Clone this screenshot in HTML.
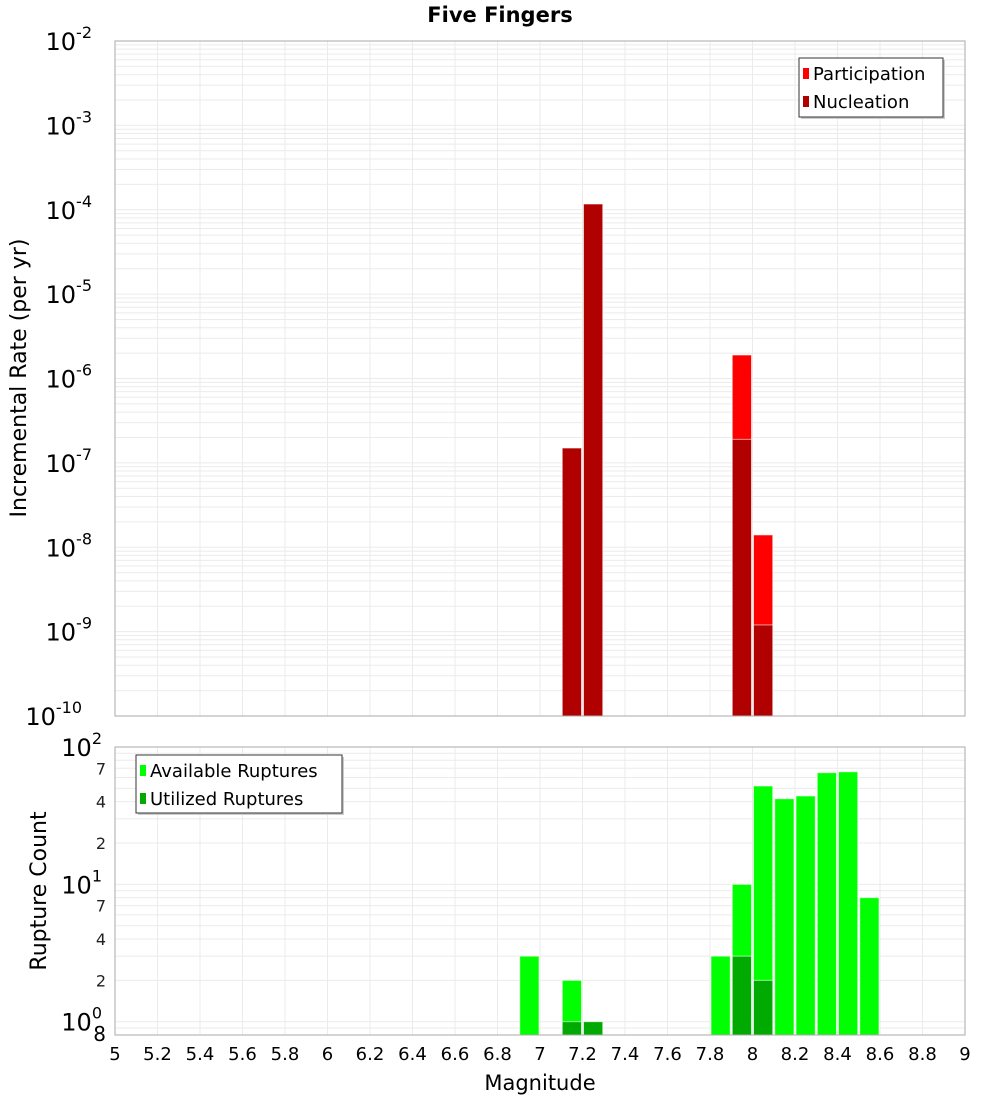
<!DOCTYPE html>
<html><head><meta charset="utf-8"><style>
body{margin:0;background:#fff;}
svg{display:block;font-family:"DejaVu Sans","Liberation Sans",sans-serif;}
</style></head><body>
<svg id="c" width="1000" height="1100"></svg>
<script>
const binCenters=[6.95,7.15,7.25,7.85,7.95,8.05,8.15,8.25,8.35,8.45,8.55];
const participation=[0,1.5e-7,1.17e-4,0,1.9e-6,1.4e-8,0,0,0,0,0];
const nucleation=[0,1.5e-7,1.17e-4,0,1.9e-7,1.2e-9,0,0,0,0,0];
const available=[3,2,1,3,10,52,42,44,65,66,8];
const utilized=[0,1,1,0,3,2,0,0,0,0,0];
const xTicks=[5,5.2,5.4,5.6,5.8,6,6.2,6.4,6.6,6.8,7,7.2,7.4,7.6,7.8,8,8.2,8.4,8.6,8.8,9];
const topExps=[-2,-3,-4,-5,-6,-7,-8,-9,-10];
const botExps=[2,1,0];
const botMinor=[2,4,7];

const NS="http://www.w3.org/2000/svg";
const svg=document.getElementById('c');
function el(t,a,p){const e=document.createElementNS(NS,t);for(const k in a)e.setAttribute(k,a[k]);(p||svg).appendChild(e);return e;}
const X0=115,X1=965;
const xs=v=>X0+(v-5)/(9-5)*(X1-X0);
const T0=41,T1=716;
const ty=v=>T0+(-2-Math.log10(v))/8*(T1-T0);
const B0=747,B1=1035,bMin=0.8,bMax=100;
const by=v=>B0+(Math.log10(bMax)-Math.log10(v))/(Math.log10(bMax)-Math.log10(bMin))*(B1-B0);

// grids
function grid(yf,ymin,ymax,y0,y1,name){
  const g=el('g',{});
  
  
  xTicks.forEach(t=>el('line',{x1:xs(t),x2:xs(t),y1:y0,y2:y1,stroke:'#ebebeb','stroke-width':1},g));
  for(let e=Math.floor(Math.log10(ymin));e<=Math.log10(ymax);e++){
    for(let m=1;m<10;m++){const v=m*Math.pow(10,e);if(v<ymin||v>ymax)continue;
      el('line',{x1:X0,x2:X1,y1:yf(v),y2:yf(v),stroke:'#ebebeb','stroke-width':1},g);}
  }
}
grid(ty,1e-10,1e-2,T0,T1,'top-grid');
grid(by,bMin,bMax,B0,B1,'bottom-grid');

const bw=xs(0.1)-xs(0);
function bar(c,v,yf,base,fill,name){
  if(!v)return;
  const y=yf(v);
  const r=el('rect',{x:xs(c-0.05)+1,y:y,width:bw-2,height:base-y,fill:fill,stroke:'rgba(255,255,255,0.6)','stroke-width':1});
  
  
}
binCenters.forEach((c,i)=>{bar(c,participation[i],ty,T1,'#ff0000','participation-bar');});
binCenters.forEach((c,i)=>{bar(c,nucleation[i],ty,T1,'#b00000','nucleation-bar');});
binCenters.forEach((c,i)=>{bar(c,available[i],by,B1,'#00ff00','available-bar');});
binCenters.forEach((c,i)=>{bar(c,utilized[i],by,B1,'#00aa00','utilized-bar');});

// frames
el('rect',{x:X0,y:T0,width:X1-X0,height:T1-T0,fill:'none',stroke:'#aaa'});
el('rect',{x:X0,y:B0,width:X1-X0,height:B1-B0,fill:'none',stroke:'#aaa'});

function pow10(x,y,e,name){
  const t=el('text',{x:x,y:y,'text-anchor':'end','font-size':24,fill:'#000'});
  
  
  t.textContent='10';
  const s=el('tspan',{dy:-12,'font-size':16},t);s.textContent=String(e);
  t.setAttribute('x',x-(String(e).length*10));
}
topExps.forEach(e=>pow10(112,ty(Math.pow(10,e))+9,e,'y-tick-label'));
botExps.forEach(e=>pow10(112,by(Math.pow(10,e))+9,e,'y-tick-label'));
botMinor.forEach(m=>[0,1].forEach(e=>{
  const t=el('text',{x:106,y:by(m*Math.pow(10,e))+6,'text-anchor':'end','font-size':16,fill:'#222'});
  
  
  t.textContent=m;
}));
{const t=el('text',{x:106,y:B1+6,'text-anchor':'end','font-size':20,fill:'#000'});
 t.textContent='8';}

xTicks.forEach(v=>{
  const t=el('text',{x:xs(v),y:1060,'text-anchor':'middle','font-size':18,fill:'#000'});
  
  
  t.textContent=v;
});

function txt(x,y,s,attrs,name){const t=el('text',Object.assign({x:x,y:y},attrs));t.textContent=s;return t;}
txt(500,22,'Five Fingers',{'text-anchor':'middle','font-size':21,'font-weight':'bold'},'chart-title');
txt(540,1090,'Magnitude',{'text-anchor':'middle','font-size':21},'x-axis-title');
txt(0,0,'Incremental Rate (per yr)',{'text-anchor':'middle','font-size':22,transform:'translate(26,378) rotate(-90)'},'top-y-axis-title');
txt(0,0,'Rupture Count',{'text-anchor':'middle','font-size':22,transform:'translate(46,891) rotate(-90)'},'bottom-y-axis-title');

function legend(x,y,w,h,items,name){
  const g=el('g',{});
  
  
  el('rect',{x:x+2,y:y+2,width:w,height:h,fill:'#ccc'},g);
  el('rect',{x:x,y:y,width:w,height:h,fill:'#fff',stroke:'#333'},g);
  items.forEach((it,i)=>{
    const cy=y+15+i*28;
    el('rect',{x:x+4,y:cy-5,width:6,height:11,fill:it[1]},g);
    const t=el('text',{x:x+14,y:cy+7,'font-size':18},g);t.textContent=it[0];
  });
}
legend(799,58,144,59,[['Participation','#ff0000'],['Nucleation','#b00000']],'top-legend');
legend(136,755,206,58,[['Available Ruptures','#00ff00'],['Utilized Ruptures','#00aa00']],'bottom-legend');
</script>
</body></html>
